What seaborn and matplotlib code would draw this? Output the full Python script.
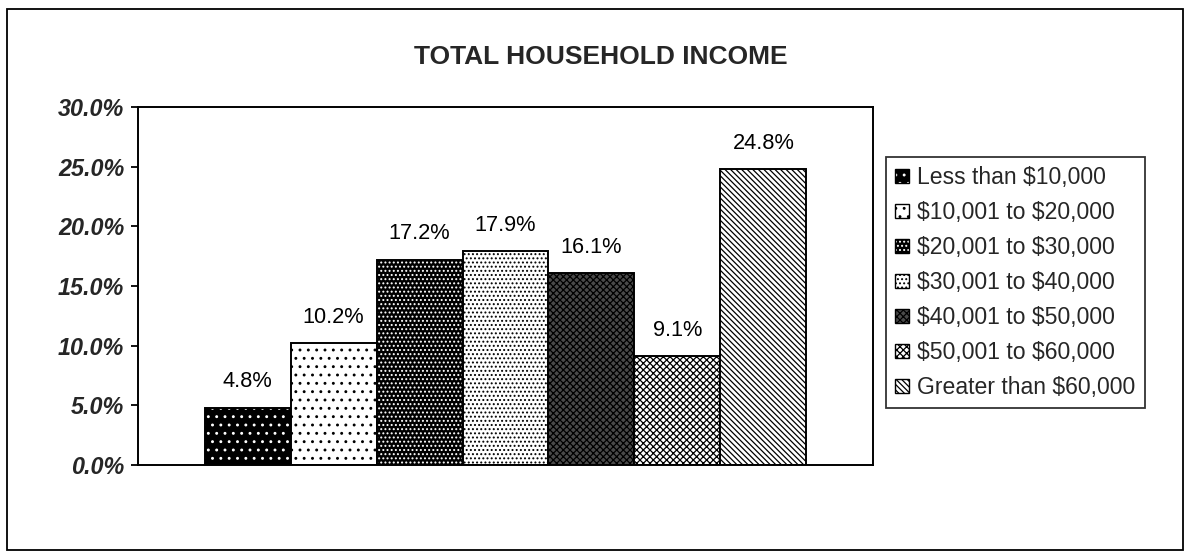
import numpy as np
import pandas as pd
import matplotlib
matplotlib.use("Agg")
import matplotlib.pyplot as plt
from matplotlib.patches import Rectangle
from matplotlib.colors import to_rgba
import seaborn as sns

# ---- data ----
title = "TOTAL HOUSEHOLD INCOME"
categories = ["Less than $10,000", "$10,001 to $20,000", "$20,001 to $30,000",
              "$30,001 to $40,000", "$40,001 to $50,000", "$50,001 to $60,000",
              "Greater than $60,000"]
values = [4.8, 10.2, 17.2, 17.9, 16.1, 9.1, 24.8]
yticks = [0, 5, 10, 15, 20, 25, 30]

# ---- styles ----
face_colors = ["black", "white", "black", "white", "#4a4a4a", "white", "white"]
hatch_colors = ["white", "black", "white", "black", "black", "black", "black"]
hatches = ["..", "..", "....", "....", "xxxxx", "xxxxx", "\\" * 6]

sns.set_theme(style="white")
plt.rcParams["font.family"] = ["Liberation Sans", "DejaVu Sans"]
plt.rcParams["text.parse_math"] = False
plt.rcParams["hatch.linewidth"] = 0.9

W, H = 1191, 555
fig = plt.figure(figsize=(W / 100, H / 100), dpi=100)
ax = fig.add_axes([138 / W, 1 - 465 / H, 735 / W, 358 / H])

df = pd.DataFrame({"group": ["all"] * len(values), "income": categories, "pct": values})
sns.barplot(data=df, x="group", y="pct", hue="income", hue_order=categories,
            width=0.819, ax=ax, legend=False, saturation=1)

bars = [c.patches[0] for c in ax.containers]
for p, fc, hc, h in zip(bars, face_colors, hatch_colors, hatches):
    p.set_facecolor(fc)
    p.set_edgecolor("black")
    p.set_linewidth(1.4)
    p.set_hatch(h)
    if hasattr(p, "set_hatchcolor"):
        p.set_hatchcolor(hc)
    else:
        p._hatch_color = to_rgba(hc)

for c in ax.containers:
    ax.bar_label(c, labels=[f"{v:.1f}%" for v in c.datavalues], padding=11,
                 fontsize=15.7, color="black")

ax.set_xlim(-0.5, 0.5)
ax.set_ylim(0, 30)
ax.set_yticks(yticks)
ax.set_yticklabels([f"{t:.1f}%" for t in yticks], fontsize=16.8,
                   fontweight="bold", fontstyle="italic")
ax.set_xticks([])
ax.set_xlabel("")
ax.set_ylabel("")
ax.tick_params(axis="y", left=True, length=5, width=1.3, pad=5, color="black")
for s in ax.spines.values():
    s.set_visible(True)
    s.set_color("black")
    s.set_linewidth(1.4)
ax.set_facecolor("white")

leg = ax.legend(handles=bars, labels=categories, loc="upper left",
                bbox_to_anchor=(886 / W, 1 - 157 / H), bbox_transform=fig.transFigure,
                fontsize=16.6, frameon=True, fancybox=False, shadow=False,
                handlelength=0.6, handleheight=0.6, handletextpad=0.35,
                labelspacing=0.52, borderpad=0.4, borderaxespad=0)
leg.get_frame().set_edgecolor("black")
leg.get_frame().set_linewidth(1.3)
for h in leg.legend_handles:
    h.set_linewidth(1.0)

fig.text(601 / W, 1 - 64 / H, title, ha="center", va="baseline",
         fontsize=19, fontweight="bold")

fig.patches.append(Rectangle((7 / W, 1 - 550 / H), 1176 / W, 541 / H,
                             transform=fig.transFigure, fill=False,
                             edgecolor="black", linewidth=1.3))

fig.savefig("out.png", dpi=100, facecolor="white")
